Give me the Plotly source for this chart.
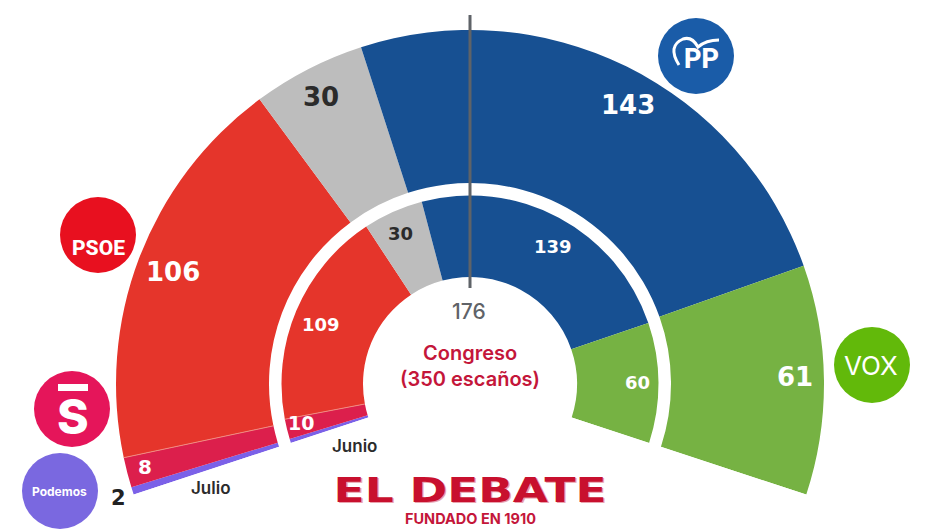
import math
import plotly.graph_objects as go

W, H = 940, 529
parties = ["Podemos", "Sumar", "PSOE", "Otros", "PP", "Vox"]
colors = ["#7B61E8", "#DC1F4C", "#E5352B", "#BDBDBD", "#175092", "#76B243"]
julio = [2, 8, 106, 30, 143, 61]
junio = [2, 10, 109, 30, 139, 60]
TOTAL = 350
SPAN = 216.4
MAJORITY = 176

CX, CY = 470, 384
RMAX = 369
DEG = SPAN / TOTAL
SECT = (SPAN - 180) / 2


def px(x):
    return x / W


def py(y):
    return 1 - y / H


fig = go.Figure()


def ring(vals, r0, r1, name):
    theta, width = [], []
    cum = 0
    for v in vals:
        theta.append((cum + v / 2 - TOTAL / 2) * DEG)
        width.append(v * DEG)
        cum += v
    fig.add_trace(go.Barpolar(
        theta=theta, width=width, r=[r1 - r0] * len(vals), base=[r0] * len(vals),
        marker=dict(color=colors, line=dict(width=0)), name=name, customdata=parties,
        hovertemplate="%{customdata}<extra>" + name + "</extra>", showlegend=False))
    # thin light seam between Sumar and PSOE
    seam = (vals[0] + vals[1] - TOTAL / 2) * DEG
    fig.add_trace(go.Scatterpolar(theta=[seam, seam], r=[r0, r1], mode="lines",
                                  line=dict(color="#F08A80", width=1), showlegend=False, hoverinfo="skip"))


ring(julio, 201, 354, "Julio")
ring(junio, 107, 188.5, "Junio")

fig.add_trace(go.Scatterpolar(
    theta=[(MAJORITY - 1 - TOTAL / 2) * DEG] * 2, r=[96, RMAX], mode="lines",
    line=dict(color="#5F6368", width=3), showlegend=False, hoverinfo="skip"))

bottom = CY + RMAX * math.sin(math.radians(SECT))
fig.update_layout(
    width=W, height=H, margin=dict(l=0, r=0, t=0, b=0), paper_bgcolor="white",
    polar=dict(
        domain=dict(x=[px(CX - RMAX), px(CX + RMAX)], y=[py(bottom), py(CY - RMAX)]),
        sector=[-SECT, 180 + SECT], bgcolor="rgba(0,0,0,0)", bargap=0,
        radialaxis=dict(visible=False, range=[0, RMAX]),
        angularaxis=dict(visible=False, rotation=90, direction="clockwise", thetaunit="degrees"),
    ),
)

NUM = "DejaVu Sans"
TXT = "Inter"
annots = []


def label(text, x, y, size, color="white", family=NUM, weight=700, **kw):
    font = dict(size=size, color=color, family=family, weight=weight)
    font.update(kw.pop("font_extra", {}))
    annots.append(dict(text=text, x=px(x), y=py(y), xref="paper", yref="paper", showarrow=False,
                       xanchor="center", yanchor="middle", font=font, **kw))


label(str(julio[4]), 628, 105, 26)
label(str(julio[3]), 321, 97, 26, "#2B2B2B")
label(str(julio[2]), 173, 272, 26)
label(str(julio[5]), 795, 377, 26)
label(str(julio[1]), 145, 467, 20)
label(str(julio[0]), 119, 498, 21, "#222222")
label(str(junio[4]), 553, 246, 18)
label(str(junio[3]), 400, 233, 18, "#2B2B2B")
label(str(junio[2]), 321, 324, 18)
label(str(junio[5]), 637, 382, 18)
label(str(junio[1]), 301, 423, 19)
label("Julio", 211, 488, 17, "#2B2B2B", TXT, 600)
label("Junio", 354, 446, 17, "#2B2B2B", TXT, 600)
label(str(MAJORITY), 469, 311, 21, "#606368", TXT, 500)
label("Congreso", 470, 353, 20, "#C4163A", TXT, 600)
label("(350 escaños)", 470, 379, 20, "#C4163A", TXT, 600)
label("EL DEBATE", 470, 490, 34, "#C8102E", "DejaVu Sans", 700,
      font_extra=dict(shadow="1px 1px 0 #E9A3AE"))
label("FUNDADO EN 1910", 470, 518, 14.5, "#C4163A", TXT, 700)

logos = [("#1A5CA8", 696, 56), ("#62B90A", 872, 365), ("#E8101F", 98, 235),
         ("#E5155A", 72, 409), ("#7A68E0", 60, 491)]
shapes = []
for c, x, y in logos:
    shapes.append(dict(type="circle", xref="paper", yref="paper", x0=px(x - 38), x1=px(x + 38),
                       y0=py(y + 38), y1=py(y - 38), fillcolor=c, line=dict(width=0), layer="below"))
shapes.append(dict(type="rect", xref="paper", yref="paper", x0=px(58), x1=px(88), y0=py(391), y1=py(384),
                   fillcolor="white", line=dict(width=0)))
d = "M {} {} Q {} {} {} {} Q {} {} {} {} Q {} {} {} {}".format(
    px(679), py(65), px(667), py(46), px(683), py(39), px(692), py(36), px(698), py(47),
    px(706), py(40), px(719), py(40))
shapes.append(dict(type="path", xref="paper", yref="paper", path=d, line=dict(color="white", width=3)))
fig.update_layout(shapes=shapes)

label("PP", 701, 59, 27, "white", "Roboto", 800)
label("VOX", 871, 366, 26, "white", "Inter", 400)
label("PSOE", 98, 248, 21, "white", "Roboto", 800)
label("S", 73, 416, 48, "white", "Inter", 800)
label("Podemos", 60, 491, 12, "white", "Inter", 700)
fig.update_layout(annotations=annots)

post = """
document.body.style.margin='0';
document.querySelectorAll('.annotation-text').forEach(function(t){
  if(t.textContent==='EL DEBATE'){t.setAttribute('textLength','273');t.setAttribute('lengthAdjust','spacingAndGlyphs');}
});
"""
fig.write_html("out.html", post_script=post, config=dict(displayModeBar=False))
